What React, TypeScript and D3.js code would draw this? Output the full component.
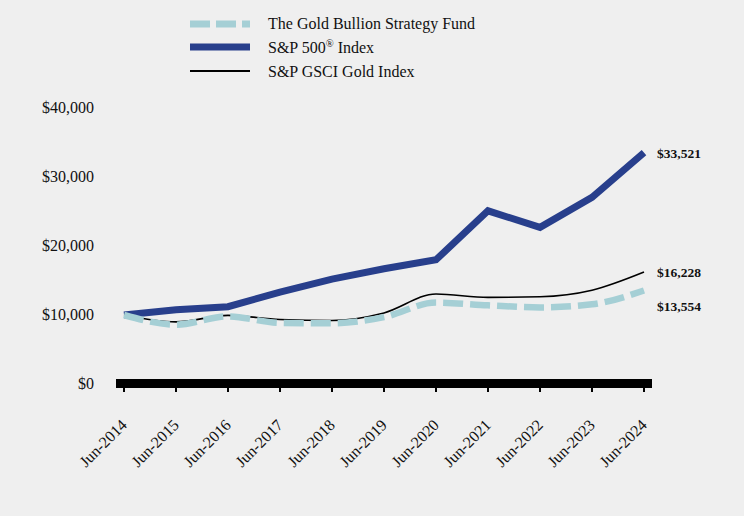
import React from "react";
import * as d3 from "d3";

const years = ["Jun-2014","Jun-2015","Jun-2016","Jun-2017","Jun-2018","Jun-2019","Jun-2020","Jun-2021","Jun-2022","Jun-2023","Jun-2024"];
const fund = [10000, 8600, 9800, 8850, 8800, 9700, 11800, 11400, 11100, 11550, 13554];
const sp500 = [10000, 10750, 11200, 13300, 15200, 16700, 18000, 25100, 22700, 27050, 33521];
const gsci = [10000, 9000, 9950, 9350, 9200, 10300, 13050, 12550, 12650, 13600, 16228];
const yTicks = [0, 10000, 20000, 30000, 40000];
const endLabels = ["$33,521", "$16,228", "$13,554"];

const W = 744, H = 516;
const serif = "'Liberation Serif', 'Times New Roman', serif";
const BLUE = "#283f8c";
const LIGHT = "#a5cfd5";

export default function App() {
  const x = d3.scalePoint<string>().domain(years).range([124, 644]);
  const y = d3.scaleLinear().domain([0, 40000]).range([384, 108]);
  const lineStraight = d3.line<number>().x((_, i) => x(years[i])!).y(d => y(d));
  const lineSmooth = d3.line<number>().x((_, i) => x(years[i])!).y(d => y(d)).curve(d3.curveMonotoneX);
  const fmt = (v: number) => "$" + d3.format(",")(v);
  const lastX = x(years[years.length - 1])!;

  return (
    <svg width={W} height={H} style={{ position: "absolute", left: 0, top: 0, background: "#efefef" }} fontFamily={serif}>
      <rect x={0} y={0} width={W} height={H} fill="#efefef" />
      {/* legend */}
      <g>
        <line x1={190} x2={250} y1={24} y2={24} stroke={LIGHT} strokeWidth={7} strokeDasharray="20 6" />
        <text x={268} y={29} fontSize={16} fill="#111">The Gold Bullion Strategy Fund</text>
        <line x1={190} x2={250} y1={47} y2={47} stroke={BLUE} strokeWidth={7} />
        <text x={268} y={53} fontSize={16} fill="#111">S&amp;P 500<tspan fontSize={10.5} dy={-6}>®</tspan><tspan dy={6}> Index</tspan></text>
        <line x1={190} x2={250} y1={71} y2={71} stroke="#000" strokeWidth={2} />
        <text x={268} y={77} fontSize={16} fill="#111">S&amp;P GSCI Gold Index</text>
      </g>
      {/* y axis labels */}
      {yTicks.map(t => (
        <text key={t} x={94} y={y(t) + 5} fontSize={16} textAnchor="end" fill="#111">{fmt(t)}</text>
      ))}
      {/* x axis bar */}
      <rect x={116} y={379} width={536} height={9} fill="#000" />
      {years.map(yr => (
        <g key={yr}>
          <line x1={x(yr)!} x2={x(yr)!} y1={386} y2={392} stroke="#000" strokeWidth={2} />
          <text transform={`translate(${x(yr)! + 4},${426}) rotate(-45)`} textAnchor="end" fontSize={16} fill="#111">{yr}</text>
        </g>
      ))}
      {/* lines */}
      <path d={lineStraight(sp500)!} fill="none" stroke={BLUE} strokeWidth={7} strokeLinejoin="miter" />
      <path d={lineSmooth(gsci)!} fill="none" stroke="#000" strokeWidth={1.6} />
      <path d={lineSmooth(fund)!} fill="none" stroke={LIGHT} strokeWidth={6.5} strokeDasharray="20 7" />
      {/* end labels */}
      <text x={lastX + 13} y={y(sp500[10]) + 5} fontSize={13.5} fontWeight="bold" fill="#111">{endLabels[0]}</text>
      <text x={lastX + 13} y={y(gsci[10]) + 5} fontSize={13.5} fontWeight="bold" fill="#111">{endLabels[1]}</text>
      <text x={lastX + 13} y={y(fund[10]) + 21} fontSize={13.5} fontWeight="bold" fill="#111">{endLabels[2]}</text>
    </svg>
  );
}
